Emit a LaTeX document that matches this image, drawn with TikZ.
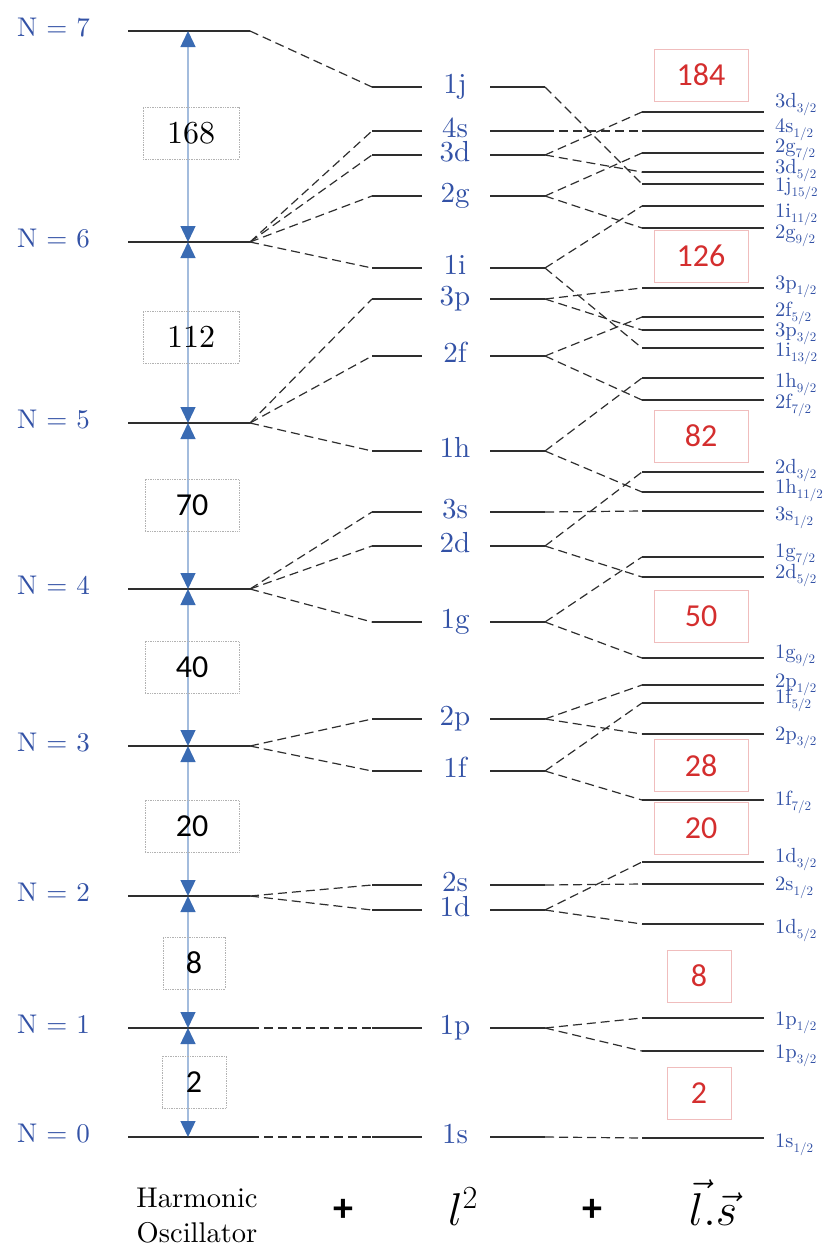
\RequirePackage{fix-cm}
\documentclass[tikz,border=0pt]{standalone}
\usepackage{fontspec}
\setmainfont{lmroman10-regular.otf}[BoldFont=lmroman10-bold.otf]
\newfontfamily\carl{Carlito}
\usetikzlibrary{arrows.meta}
\definecolor{lblue}{HTML}{3352A6}
\definecolor{mred}{HTML}{D42E2E}
\definecolor{mredbox}{HTML}{F0BDBD}
\definecolor{arrline}{HTML}{A3BCDD}
\definecolor{arrhead}{HTML}{3A6BB3}
\definecolor{lev}{HTML}{2E2E2E}
\newcommand{\spinsub}[1]{\raisebox{-5.5pt}{\fontsize{13}{13}\selectfont #1/2}}
\begin{document}
\begin{tikzpicture}[x=1pt,y=-1pt,
 level/.style={draw=lev,line width=1.9pt},
 conn/.style={draw=lev,line width=1.2pt,dash pattern=on 9pt off 5pt},
 nlab/.style={text=lblue,font=\fontsize{27}{27}\selectfont,anchor=base west,inner sep=0},
 llab/.style={text=lblue,font=\fontsize{29}{29}\selectfont,anchor=base,inner sep=0},
 rlab/.style={text=lblue,font=\fontsize{20.5}{20.5}\selectfont,anchor=base west,inner sep=0},
 hobox/.style={draw=gray!60,densely dotted,line width=0.7pt,minimum height=52pt,inner sep=0,font=\fontsize{32}{32}\selectfont},
 magic/.style={draw=mredbox,line width=0.9pt,minimum width=94pt,minimum height=52pt,inner sep=0,text=mred,font=\carl\fontsize{32}{32}\selectfont},
 arrseg/.style={draw=arrline,line width=1.4pt,arrows={Triangle[length=16pt,width=15pt,color=arrhead]-Triangle[length=16pt,width=15pt,color=arrhead]}},
 botlab/.style={font=\fontsize{28.5}{28.5}\selectfont,anchor=base,inner sep=0},
 plus/.style={font=\carl\bfseries\fontsize{40}{40}\selectfont,inner sep=0},
]
\useasboundingbox (0,0) rectangle (823,1245);

% Harmonic oscillator levels
\foreach \n/\y in {7/31,6/242,5/423,4/589,3/746,2/896,1/1028,0/1137}{
  \coordinate (hoL\n) at (128,\y);
  \coordinate (hoR\n) at (250,\y);
  \coordinate (arr\n) at (188,\y);
  \draw[level] (hoL\n) -- (hoR\n);
  \node[nlab] (N\n) at (17,\y+5) {N = \n};
}

% l^2 levels
\foreach \k/\y in {1j/87,4s/131,3d/155,2g/196,1i/268,3p/299,2f/356,1h/451,3s/512,2d/546,1g/622,2p/719,1f/771,2s/885,1d/910,1p/1028,1s/1137}{
  \coordinate (a\k) at (372,\y);
  \coordinate (b\k) at (422,\y);
  \coordinate (c\k) at (490,\y);
  \coordinate (d\k) at (545,\y);
  \draw[level] (a\k) -- (b\k);
  \draw[level] (c\k) -- (d\k);
  \node[llab] (L\k) at (455,\y+6) {\k};
}

% spin-orbit levels
\foreach \k/\y/\m/\s/\b in {3d3/112/3d/3/107,4s1/131/4s/1/132,2g7/153/2g/7/152,3d5/172/3d/5/173,1j15/184/1j/15/191,1i11/206/1i/11/217,2g9/228/2g/9/238,3p1/288/3p/1/289,2f5/317/2f/5/316,3p3/330/3p/3/336,1i13/348/1i/13/356,1h9/378/1h/9/387,2f7/400/2f/7/408,2d3/472/2d/3/473,1h11/492/1h/11/493,3s1/511/3s/1/520,1g7/557/1g/7/557,2d5/577/2d/5/578,1g9/658/1g/9/658,2p1/685/2p/1/687,1f5/703/1f/5/703,2p3/734/2p/3/740,1f7/800/1f/7/805,1d3/862/1d/3/862,2s1/884/2s/1/890,1d5/924/1d/5/933,1p1/1018/1p/1/1025,1p3/1051/1p/3/1058,1s1/1138/1s/1/1147}{
  \coordinate (e\k) at (642,\y);
  \coordinate (f\k) at (764,\y);
  \draw[level] (e\k) -- (f\k);
  \node[rlab] (R\k) at (775,\b) {\m\spinsub{\s}};
}

% HO -> l^2 connectors
\foreach \n/\k in {7/1j,6/4s,6/3d,6/2g,6/1i,5/3p,5/2f,5/1h,4/3s,4/2d,4/1g,3/2p,3/1f,2/2s,2/1d,1/1p,0/1s}{
  \draw[conn] (hoR\n) -- (a\k);
}

% l^2 -> l.s connectors
\foreach \k/\j in {1j/1j15,4s/4s1,3d/3d3,3d/3d5,2g/2g7,2g/2g9,1i/1i11,1i/1i13,3p/3p1,3p/3p3,2f/2f5,2f/2f7,1h/1h9,1h/1h11,3s/3s1,2d/2d3,2d/2d5,1g/1g7,1g/1g9,2p/2p1,2p/2p3,1f/1f5,1f/1f7,2s/2s1,1d/1d3,1d/1d5,1p/1p1,1p/1p3,1s/1s1}{
  \draw[conn] (d\k) -- (e\j);
}

% vertical arrows
\foreach \u/\l in {7/6,6/5,5/4,4/3,3/2,2/1,1/0}{
  \draw[arrseg] (arr\u) -- (arr\l);
}

% degeneracy boxes
\node[hobox,minimum width=96pt] (g168) at (191,133) {168};
\node[hobox,minimum width=96pt] (g112) at (191,337) {112};
\node[hobox,minimum width=94pt,font=\carl\fontsize{32}{32}\selectfont] (g70) at (192,505) {70};
\node[hobox,minimum width=94pt,font=\carl\fontsize{32}{32}\selectfont] (g40) at (192,667) {40};
\node[hobox,minimum width=94pt,font=\carl\fontsize{32}{32}\selectfont] (g20) at (192,826) {20};
\node[hobox,minimum width=62pt,font=\carl\fontsize{32}{32}\selectfont] (g8) at (194,963) {8};
\node[hobox,minimum width=64pt,font=\carl\fontsize{32}{32}\selectfont] (g2) at (194,1082) {2};

% magic numbers
\node[magic] (m184) at (701,75) {184};
\node[magic] (m126) at (701,256) {126};
\node[magic] (m82) at (701,436) {82};
\node[magic] (m50) at (701,616.5) {50};
\node[magic] (m28) at (701,765.5) {28};
\node[magic] (m20) at (701,828.5) {20};
\node[magic,minimum width=64pt] (m8) at (699,976) {8};
\node[magic,minimum width=64pt] (m2) at (699,1093.5) {2};

% bottom labels
\node[botlab] (hoA) at (197,1207) {Harmonic};
\node[botlab] (hoB) at (197,1242) {Oscillator};
\node[plus] (plus1) at (343,1210) {+};
\node[plus] (plus2) at (592,1210) {+};
\node[anchor=base,inner sep=0] (lsq) at (463,1225) {\fontsize{46}{46}\selectfont$l^2$};
\node[anchor=base,inner sep=0] (ls) at (713,1225) {\fontsize{46}{46}\selectfont$\vec{l}.\vec{s}$};
\end{tikzpicture}
\end{document}
